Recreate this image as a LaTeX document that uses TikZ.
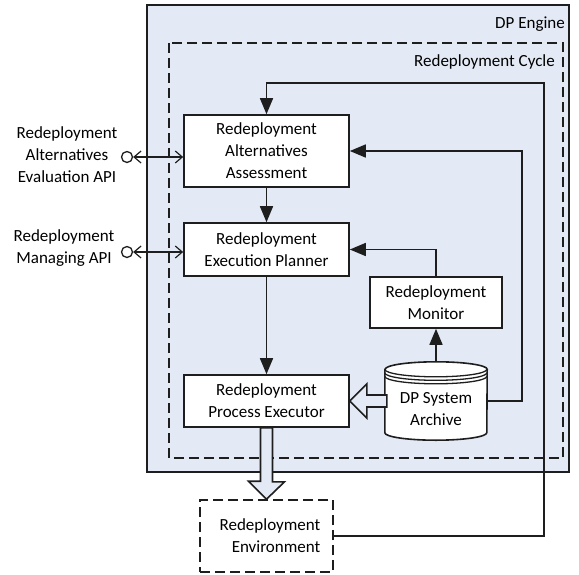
\documentclass[tikz,border=0pt]{standalone}
\usepackage{fontspec}
\setmainfont{Carlito}
\usetikzlibrary{arrows.meta,calc}
\definecolor{enginefill}{RGB}{228,234,245}
\definecolor{linegray}{RGB}{30,30,30}
\tikzset{
  lbl/.style={font=\fontsize{17}{22}\selectfont,align=center,inner sep=0pt},
  box/.style={lbl,draw=linegray,fill=white,line width=1.6pt},
  dashbox/.style={lbl,draw=linegray,line width=1.6pt,dash pattern=on 10pt off 5pt},
  flow/.style={draw=linegray,line width=1.6pt,-{Triangle[length=16pt,width=13pt]}},
  apiarrow/.style={draw=linegray,line width=1.2pt,{Straight Barb[length=7pt,width=12pt]}-{Straight Barb[length=7pt,width=12pt]}},
  blockarrow/.style={draw=linegray,fill=enginefill,line width=1.6pt,line join=miter}
}
\begin{document}
\begin{tikzpicture}[x=1pt,y=-1pt]
    \useasboundingbox (0,0) rectangle (579,574);
    \draw[fill=enginefill,draw=linegray,line width=1.6pt] (147,5) rectangle (569,472);
    \draw[draw=linegray,line width=1.6pt,dash pattern=on 10pt off 5pt] (169,43) rectangle (563,458);
    \node[lbl,anchor=east] (enginelbl) at (565,24) {DP Engine};
    \node[lbl,anchor=east] (cyclelbl) at (555,62) {Redeployment Cycle};

    \node[box,minimum width=165pt,minimum height=72pt] (assess) at (266.5,151) {Redeployment\\Alternatives\\Assessment};
    \node[box,minimum width=165pt,minimum height=53pt] (plan) at (266.5,249.5) {Redeployment\\Execution Planner};
    \node[box,minimum width=132pt,minimum height=51pt] (monitor) at (436,302.5) {Redeployment\\Monitor};
    \node[box,minimum width=165pt,minimum height=52pt] (exec) at (266.5,401) {Redeployment\\Process Executor};
    \node[dashbox,minimum width=133pt,minimum height=72pt,align=right] (env) at (266.5,536) {\hspace*{7pt}Redeployment\\Environment};
    \node[lbl,minimum width=102pt,minimum height=78pt] (archive) at (436,401) {};

    \draw[draw=linegray,fill=white,line width=1.6pt]
        ([yshift=-7.5pt]archive.north west) -- ([yshift=7.5pt]archive.south west)
        arc[start angle=180,end angle=360,x radius=51pt,y radius=7.5pt]
        -- ([yshift=-7.5pt]archive.north east)
        arc[start angle=0,end angle=180,x radius=51pt,y radius=7.5pt] -- cycle;
    \foreach \d in {7.5,11,14.5}
        \draw[draw=linegray,line width=1.3pt] ([yshift=-\d pt]archive.north west)
            arc[start angle=180,end angle=360,x radius=51pt,y radius=7.5pt];
    \node[lbl] (archivetxt) at (436,409) {DP System\\Archive};

    \node[lbl] (evallbl) at (67,155) {Redeployment\\Alternatives\\Evaluation API};
    \node[lbl] (managelbl) at (64,248) {Redeployment\\Managing API};
    \node[circle,draw=linegray,line width=1.3pt,minimum size=11pt,inner sep=0pt] (evalapi) at (127,157) {};
    \node[circle,draw=linegray,line width=1.3pt,minimum size=11pt,inner sep=0pt] (manageapi) at (127,252) {};
    \draw[apiarrow] (evalapi) -- (evalapi -| assess.west);
    \draw[apiarrow] (manageapi) -- (manageapi -| plan.west);

    \draw[flow] (assess) -- (plan);
    \draw[flow] (plan) -- (exec);
    \draw[flow] (archive.north) -- (monitor.south);
    \draw[flow] (monitor.north) |- (plan.east);
    \draw[flow] (archive.east) -- ++(35,0) |- (assess.east);
    \draw[flow] (env.east) -- ++(210,0) |- ($(assess.north)+(0,-31)$) -- (assess.north);

    \draw[blockarrow] (exec.east) -- ++(17,-17) -- ++(0,11) -- ++(20,0) -- ++(0,12)
        -- ++(-20,0) -- ++(0,11) -- cycle;
    \draw[blockarrow] (env.north) -- ++(-18,-18) -- ++(12,0) -- (exec.south -| 260.5,0)
        -- ++(12,0) -- ++(0,54) -- ++(12,0) -- cycle;
\end{tikzpicture}
\end{document}
